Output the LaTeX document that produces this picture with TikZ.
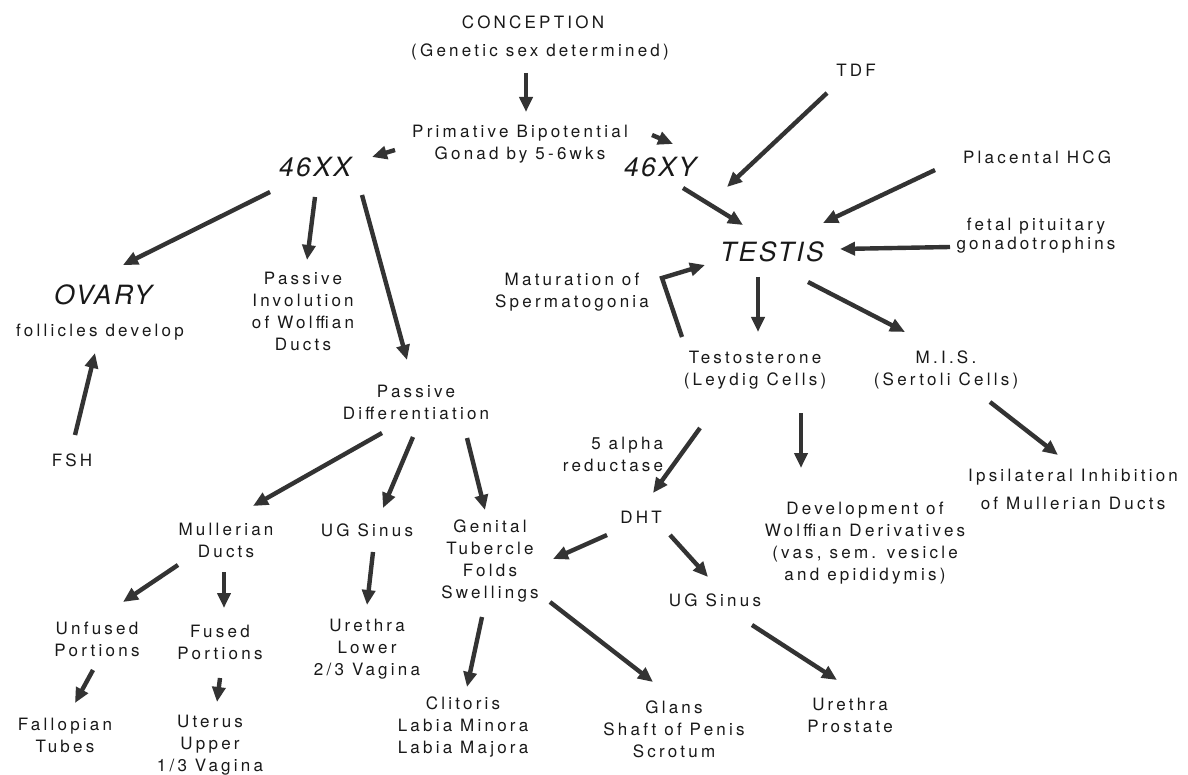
\documentclass[tikz,border=0pt]{standalone}
\usepackage{fontspec}
\setmainfont{TeX Gyre Heros}[LetterSpace=19]
\newfontfamily\bigfont{TeX Gyre Heros}[LetterSpace=9]
\usetikzlibrary{calc, arrows.meta}

\begin{document}
\begin{tikzpicture}[x=1pt, y=-1pt,
    lbl/.style={align=center, inner sep=0pt, text=black!90,
        font=\fontsize{17}{22}\selectfont},
    big/.style={inner sep=0pt, text=black!90,
        font=\bigfont\fontsize{26.5}{30}\selectfont\itshape},
    arr/.style={line width=4.4pt, draw=black!80,
        -{Triangle[length=15pt, width=13pt]}}]
            \useasboundingbox[fill=white] (0,0) rectangle (1188,775);
            % top
            \node[lbl] (concep) at (533,22) {CONCEPTION};
            \node[lbl] (genetic) at (540,52) {(Genetic sex determined)};
            \node[lbl] (gonad) at (520,144) {Primative Bipotential\\Gonad by 5-6wks};
            \node[big] (xx) at (315,167) {46XX};
            \node[big] (xy) at (660,167) {46XY};
            % male side
            \node[lbl] (tdf) at (856,70) {TDF};
            \node[lbl] (hcg) at (1037,157) {Placental HCG};
            \node[lbl, font=\fontsize{17}{19}\selectfont] (fetal) at (1036,236) {fetal pituitary\\gonadotrophins};
            \node[big] (testis) at (772,252) {TESTIS};
            \node[lbl] (matur) at (572,292) {Maturation of\\Spermatogonia};
            \node[lbl] (testo) at (755,370) {Testosterone\\(Leydig Cells)};
            \node[lbl] (mis) at (946,370) {M.I.S.\\(Sertoli Cells)};
            \node[lbl, align=right] (alpha) at (613,454) {5 alpha\\reductase};
            \node[lbl] (dht) at (641,517) {DHT};
            \node[lbl] (dev) at (865,543) {Development of\\Wolffian Derivatives\\(vas, sem. vesicle\\and epididymis)};
            \node[lbl, font=\fontsize{17}{28}\selectfont] (ipsi) at (1073,489) {Ipsilateral Inhibition\\of Mullerian Ducts};
            \node[lbl] (ugsr) at (715,600) {UG Sinus};
            \node[lbl] (prost) at (850,715) {Urethra\\Prostate};
            \node[lbl] (glans) at (674,729) {Glans\\Shaft of Penis\\Scrotum};
            % female side
            \node[big] (ovary) at (103,295) {OVARY};
            \node[lbl] (foll) at (100,332) {follicles develop};
            \node[lbl] (fsh) at (72,460) {FSH};
            \node[lbl] (invol) at (303,311) {Passive\\Involution\\of Wolffian\\Ducts};
            \node[lbl] (pdiff) at (416,402) {Passive\\Differentiation};
            \node[lbl] (mull) at (226,540) {Mullerian\\Ducts};
            \node[lbl] (ugsl) at (367,530) {UG Sinus};
            \node[lbl] (genital) at (490,561) {Genital\\Tubercle\\Folds\\Swellings};
            \node[lbl] (unfused) at (97,639) {Unfused\\Portions};
            \node[lbl] (fused) at (220,642) {Fused\\Portions};
            \node[lbl] (urethl) at (367,649) {Urethra\\Lower\\2/3 Vagina};
            \node[lbl] (fallop) at (65,735) {Fallopian\\Tubes};
            \node[lbl] (uterus) at (210,745) {Uterus\\Upper\\1/3 Vagina};
            \node[lbl] (clit) at (463,727) {Clitoris\\Labia Minora\\Labia Majora};
            % arrows, top
            \draw[arr] ($(genetic)+(-14,21)$) -- ($(gonad)+(6,-32)$);
            \draw[arr] ($(gonad)+(-125,6)$) -- ($(xx)+(57,-10)$);
            \draw[arr] ($(gonad)+(132,-9)$) -- ($(xy)+(13,-23)$);
            % arrows, male side
            \draw[arr] ($(tdf)+(-29,23)$) -- ($(xy)+(67,20)$);
            \draw[arr] ($(xy)+(23,21)$) -- ($(testis)+(-29,-27)$);
            \draw[arr] ($(hcg)+(-102,13)$) -- ($(testis)+(51,-29)$);
            \draw[arr] ($(fetal)+(-86,11)$) -- ($(testis)+(68,-3)$);
            \draw[arr] ($(testis)+(-14,25)$) -- ($(testo)+(3,-38)$);
            \draw[arr] ($(testis)+(36,30)$) -- ($(mis)+(-41,-38)$);
            \draw[arr] ($(testo)+(-73,-33)$) -- ($(matur)+(90,-14)$) -- ($(testis)+(-67,13)$);
            \draw[arr] ($(testo)+(-55,58)$) -- ($(dht)+(12,-24)$);
            \draw[arr] ($(testo)+(46,43)$) -- ($(dev)+(-64,-75)$);
            \draw[arr] ($(mis)+(44,32)$) -- ($(ipsi)+(-15,-34)$);
            \draw[arr] ($(dht)+(-34,18)$) -- ($(genital)+(63,-2)$);
            \draw[arr] ($(dht)+(29,18)$) -- ($(ugsr)+(-7,-23)$);
            \draw[arr] ($(ugsr)+(37,25)$) -- ($(prost)+(-13,-35)$);
            \draw[arr] ($(genital)+(-8,56)$) -- ($(clit)+(4,-40)$);
            \draw[arr] ($(genital)+(60,41)$) -- ($(glans)+(-21,-47)$);
            % arrows, female side
            \draw[arr] ($(xx)+(-45,25)$) -- ($(ovary)+(20,-30)$);
            \draw[arr] ($(xx)+(0,30)$) -- ($(invol)+(4,-51)$);
            \draw[arr] ($(xx)+(47,28)$) -- ($(pdiff)+(-9,-42)$);
            \draw[arr] ($(fsh)+(3,-25)$) -- ($(foll)+(-5,21)$);
            \draw[arr] ($(pdiff)+(-34,31)$) -- ($(mull)+(27,-34)$);
            \draw[arr] ($(pdiff)+(-3,35)$) -- ($(ugsl)+(16,-22)$);
            \draw[arr] ($(pdiff)+(51,36)$) -- ($(genital)+(-5,-51)$);
            \draw[arr] ($(mull)+(-48,25)$) -- ($(unfused)+(26,-37)$);
            \draw[arr] ($(mull)+(-2,32)$) -- ($(fused)+(4,-34)$);
            \draw[arr] ($(ugsl)+(6,22)$) -- ($(urethl)+(0,-44)$);
            \draw[arr] ($(unfused)+(-4,31)$) -- ($(fallop)+(10,-32)$);
            \draw[arr] ($(fused)+(0,36)$) -- ($(uterus)+(7,-43)$);
\end{tikzpicture}
\end{document}
